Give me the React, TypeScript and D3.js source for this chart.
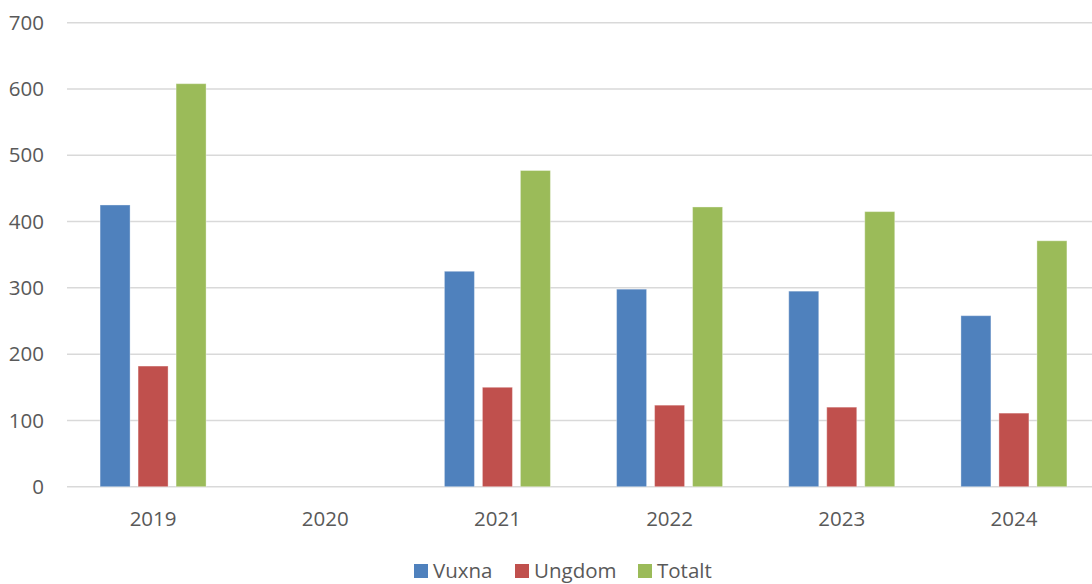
import React, {useEffect, useRef} from 'react';
import * as d3 from 'd3';

// Values
const years = ['2019', '2020', '2021', '2022', '2023', '2024'];
const seriesNames = ['Vuxna', 'Ungdom', 'Totalt'];
const vuxna: (number | null)[] = [425, null, 325, 298, 295, 258];
const ungdom: (number | null)[] = [182, null, 150, 123, 120, 111];
const totalt: (number | null)[] = [608, null, 477, 422, 415, 371];
const yTicks = [0, 100, 200, 300, 400, 500, 600, 700];
const colors = ['#4F81BD', '#C0504D', '#9BBB59'];

const width = 1092;
const height = 584;

const App: React.FC = () => {
  const ref = useRef<SVGSVGElement>(null);

  useEffect(() => {
    const svg = d3.select(ref.current);
    svg.selectAll('*').remove();

    const left = 67;
    const right = 1100;
    const top = 22.7;
    const bottom = 486.7;
    const font = '"Open Sans", sans-serif';
    const fs = 20.5;

    const x = d3.scaleBand<string>().domain(years).range([left, right]);
    const y = d3.scaleLinear().domain([0, 700]).range([bottom, top]);
    const inner = d3.scaleBand<string>()
      .domain(seriesNames)
      .range([x.bandwidth() / 2 - 53, x.bandwidth() / 2 + 53])
      .paddingInner(8 / 38);

    // gridlines
    svg.append('g')
      .selectAll('line')
      .data(yTicks)
      .join('line')
      .attr('x1', left)
      .attr('x2', right)
      .attr('y1', d => y(d))
      .attr('y2', d => y(d))
      .attr('stroke', '#D9D9D9')
      .attr('stroke-width', 1.5);

    // y labels
    svg.append('g')
      .selectAll('text')
      .data(yTicks)
      .join('text')
      .attr('x', 44)
      .attr('y', d => y(d))
      .attr('dy', '0.35em')
      .attr('text-anchor', 'end')
      .attr('font-family', font)
      .attr('font-size', fs)
      .attr('fill', '#595959')
      .text(d => d);

    // bars
    const all = [vuxna, ungdom, totalt];
    all.forEach((vals, si) => {
      svg.append('g')
        .selectAll('rect')
        .data(years.map((yr, i) => ({yr, v: vals[i]})).filter(d => d.v != null))
        .join('rect')
        .attr('x', d => x(d.yr)! + inner(seriesNames[si])!)
        .attr('width', inner.bandwidth())
        .attr('y', d => y(d.v as number))
        .attr('height', d => bottom - y(d.v as number))
        .attr('fill', colors[si])
        .attr('stroke', 'rgba(255,255,255,0.35)')
        .attr('stroke-width', 1);
    });

    // x labels
    svg.append('g')
      .selectAll('text')
      .data(years)
      .join('text')
      .attr('x', d => x(d)! + x.bandwidth() / 2)
      .attr('y', 519)
      .attr('dy', '0.35em')
      .attr('text-anchor', 'middle')
      .attr('font-family', font)
      .attr('font-size', fs)
      .attr('fill', '#595959')
      .text(d => d);

    // legend
    const legendX = [414, 515, 638];
    const lg = svg.append('g');
    seriesNames.forEach((name, i) => {
      lg.append('rect')
        .attr('x', legendX[i])
        .attr('y', 564)
        .attr('width', 14)
        .attr('height', 14)
        .attr('fill', colors[i]);
      lg.append('text')
        .attr('x', legendX[i] + 19)
        .attr('y', 571)
        .attr('dy', '0.35em')
        .attr('font-family', font)
        .attr('font-size', fs)
        .attr('fill', '#595959')
        .text(name);
    });
  }, []);

  return <div style={{position: 'absolute', left: 0, top: 0}}>
    <svg ref={ref} width={width} height={height} style={{display: 'block', background: '#fff'}}/>
  </div>;
};

export default App;
